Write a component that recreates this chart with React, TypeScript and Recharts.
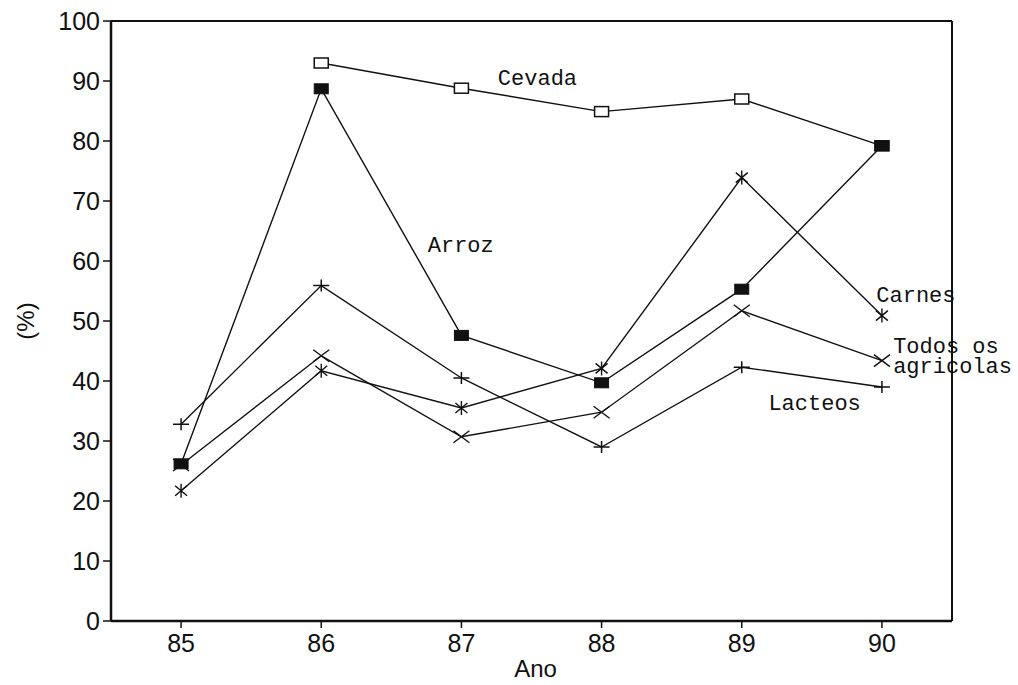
import React from 'react';
import { LineChart, Line, XAxis, YAxis, ReferenceDot, ReferenceLine } from 'recharts';

// anos da série (eixo x) e participação em % por produto
const years = [85, 86, 87, 88, 89, 90];
const cevada = [null, 93.0, 88.8, 84.9, 87.0, 79.2];
const arroz = [26.2, 88.7, 47.6, 39.7, 55.3, 79.2];
const carnes = [21.7, 41.7, 35.5, 42.1, 73.9, 50.9];
const lacteos = [32.8, 55.9, 40.5, 29.0, 42.3, 39.0];
const todos = [26.0, 44.2, 30.7, 34.8, 51.7, 43.4];

const xTicks = [85, 86, 87, 88, 89, 90];
const yTicks = [0, 10, 20, 30, 40, 50, 60, 70, 80, 90, 100];
const X_DOMAIN: [number, number] = [84.5, 90.5];

const data = years.map((ano, i) => ({
  ano,
  cevada: cevada[i],
  arroz: arroz[i],
  carnes: carnes[i],
  lacteos: lacteos[i],
  todos: todos[i],
}));

// rótulos das séries, em coordenadas do gráfico
const notes = [
  { lines: ['Cevada'], x: 87.26, y: 89.4 },
  { lines: ['Arroz'], x: 86.76, y: 61.5 },
  { lines: ['Carnes'], x: 89.96, y: 53.2 },
  { lines: ['Todos os', 'agricolas'], x: 90.08, y: 44.6 },
  { lines: ['Lacteos'], x: 89.19, y: 35.1 },
];

const INK = '#111';
const MONO = '"Liberation Mono", "DejaVu Sans Mono", monospace';
const SANS = '"Liberation Sans", Arial, sans-serif';

const OpenSquare = (props: any) => {
  const { cx, cy } = props;
  if (cx == null || cy == null) return <g />;
  return <rect x={cx - 7} y={cy - 5} width={14} height={10} fill="#fff" stroke={INK} strokeWidth={1.5} />;
};

const FilledSquare = (props: any) => {
  const { cx, cy } = props;
  if (cx == null || cy == null) return <g />;
  return <rect x={cx - 7} y={cy - 5} width={14} height={10} fill={INK} stroke={INK} strokeWidth={1} />;
};

const Star = (props: any) => {
  const { cx, cy } = props;
  if (cx == null || cy == null) return <g />;
  return (
    <path
      d={`M${cx} ${cy - 7}V${cy + 7}M${cx - 6} ${cy - 5}L${cx + 6} ${cy + 5}M${cx - 6} ${cy + 5}L${cx + 6} ${cy - 5}`}
      stroke={INK}
      strokeWidth={1.4}
      fill="none"
    />
  );
};

const Plus = (props: any) => {
  const { cx, cy } = props;
  if (cx == null || cy == null) return <g />;
  return (
    <path d={`M${cx - 8} ${cy}H${cx + 8}M${cx} ${cy - 6}V${cy + 6}`} stroke={INK} strokeWidth={1.5} fill="none" />
  );
};

const Cross = (props: any) => {
  const { cx, cy } = props;
  if (cx == null || cy == null) return <g />;
  return (
    <path
      d={`M${cx - 8} ${cy - 6}L${cx + 8} ${cy + 6}M${cx - 8} ${cy + 6}L${cx + 8} ${cy - 6}`}
      stroke={INK}
      strokeWidth={1.4}
      fill="none"
    />
  );
};

// texto livre ancorado no ponto (x, y) do gráfico; várias linhas viram tspans
const NoteText = ({ viewBox, lines }: any) => {
  if (!viewBox) return null;
  const x = viewBox.x + viewBox.width / 2;
  const y = viewBox.y + viewBox.height / 2;
  return (
    <text x={x} y={y} fill={INK} fontFamily={MONO} fontSize={22}>
      {lines.map((l: string, i: number) => (
        <tspan key={l} x={x} dy={i === 0 ? 0 : 20}>
          {l}
        </tspan>
      ))}
    </text>
  );
};

const YTitle = ({ viewBox }: any) => {
  const x = viewBox.x + 25;
  const y = viewBox.y + viewBox.height / 2;
  return (
    <text x={x} y={y} transform={`rotate(-90 ${x} ${y})`} textAnchor="middle" dominantBaseline="central" fill={INK} fontFamily={SANS} fontSize={24}>
      (%)
    </text>
  );
};

const XTitle = ({ viewBox }: any) => (
  <text x={viewBox.x + viewBox.width / 2 + 4} y={viewBox.y + 56} textAnchor="middle" fill={INK} fontFamily={SANS} fontSize={24}>
    Ano
  </text>
);

const lineProps = {
  type: 'linear' as const,
  stroke: INK,
  strokeWidth: 1.4,
  isAnimationActive: false,
  activeDot: false as const,
};

export default function App() {
  return (
    <div style={{ position: 'absolute', left: 0, top: 0, background: '#fff' }}>
      <LineChart width={1018} height={685} data={data} margin={{ top: 21, right: 66, bottom: 0, left: 0 }}>
        <XAxis
          dataKey="ano"
          type="number"
          domain={X_DOMAIN}
          ticks={xTicks}
          height={64}
          tickSize={7}
          tickMargin={6}
          axisLine={{ stroke: INK, strokeWidth: 2.5 }}
          tickLine={{ stroke: INK, strokeWidth: 1.5 }}
          tick={{ fill: INK, fontFamily: SANS, fontSize: 25 }}
          label={<XTitle />}
        />
        <YAxis
          type="number"
          domain={[0, 100]}
          ticks={yTicks}
          width={111}
          tickSize={8}
          tickMargin={3}
          axisLine={{ stroke: INK, strokeWidth: 2.5 }}
          tickLine={{ stroke: INK, strokeWidth: 1.5 }}
          tick={{ fill: INK, fontFamily: SANS, fontSize: 25 }}
          label={<YTitle />}
        />

        {/* moldura superior e direita */}
        <ReferenceLine y={100} stroke={INK} strokeWidth={2} />
        <ReferenceLine x={X_DOMAIN[1]} stroke={INK} strokeWidth={2} />

        <Line {...lineProps} dataKey="cevada" dot={<OpenSquare />} />
        <Line {...lineProps} dataKey="todos" dot={<Cross />} />
        <Line {...lineProps} dataKey="lacteos" dot={<Plus />} />
        <Line {...lineProps} dataKey="carnes" dot={<Star />} />
        <Line {...lineProps} dataKey="arroz" dot={<FilledSquare />} />

        {notes.map((n) => (
          <ReferenceDot
            key={n.lines[0]}
            x={n.x}
            y={n.y}
            r={1}
            fill="none"
            stroke="none"
            ifOverflow="visible"
            label={<NoteText lines={n.lines} />}
          />
        ))}
      </LineChart>
    </div>
  );
}
